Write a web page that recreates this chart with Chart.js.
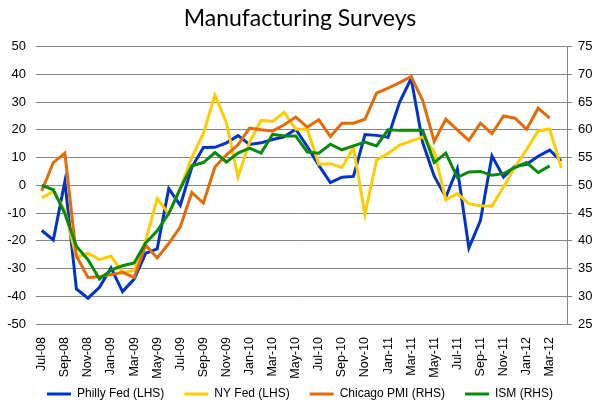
<!DOCTYPE html>
<html>
<head>
<meta charset="utf-8">
<script src="https://cdn.jsdelivr.net/npm/chart.js@4.4.1/dist/chart.umd.min.js"></script>
<style>
  html, body { margin: 0; padding: 0; background: #fff; }
  #wrap { width: 600px; height: 410px; }
</style>
</head>
<body>
<div id="wrap"><canvas id="c" width="600" height="410"></canvas></div>
<script>
const months = ['Jul-08','Aug-08','Sep-08','Oct-08','Nov-08','Dec-08',
  'Jan-09','Feb-09','Mar-09','Apr-09','May-09','Jun-09','Jul-09','Aug-09','Sep-09','Oct-09','Nov-09','Dec-09',
  'Jan-10','Feb-10','Mar-10','Apr-10','May-10','Jun-10','Jul-10','Aug-10','Sep-10','Oct-10','Nov-10','Dec-10',
  'Jan-11','Feb-11','Mar-11','Apr-11','May-11','Jun-11','Jul-11','Aug-11','Sep-11','Oct-11','Nov-11','Dec-11',
  'Jan-12','Feb-12','Mar-12','Apr-12'];

// Left-hand scale series
const phillyFed = [-16.3, -19.7, 1.4, -37.4, -40.7, -36.8, -29.8, -38.3, -33.8, -24.5, -22.9, -1.2,
  -7.2, 6.5, 13.6, 13.7, 15.3, 17.9, 14.7, 15.3, 16.5, 17.5, 20.2, 14.0,
  7.2, 1.0, 2.9, 3.2, 18.3, 18.0, 17.3, 30.0, 38.5, 15.4, 3.3, -4.2,
  6.0, -22.6, -12.7, 10.6, 3.0, 6.9, 7.6, 10.5, 12.7, 8.7];

const nyFed = [-4.5, -2.2, -9.0, -26.0, -24.5, -26.8, -25.5, -31.4, -30.7, -20.0, -4.8, -10.3,
  -1.0, 10.0, 18.7, 32.6, 22.5, 3.0, 15.5, 23.4, 23.1, 26.3, 20.2, 20.2,
  7.6, 7.8, 6.4, 13.5, -10.5, 9.1, 11.5, 14.5, 15.9, 17.5, 12.1, -5.2,
  -3.0, -6.6, -7.4, -7.5, -0.6, 6.6, 12.9, 19.6, 20.3, 6.3];

// Right-hand scale series
const chicagoPMI = [49.0, 54.1, 55.8, 37.3, 33.4, 33.5, 33.9, 34.3, 33.4, 39.2, 36.9, 39.5,
  42.5, 48.7, 46.8, 53.3, 55.5, 57.3, 60.3, 60.0, 59.8, 60.9, 62.3, 60.5,
  61.8, 58.8, 61.2, 61.2, 61.9, 66.6, 67.5, 68.5, 69.6, 65.3, 57.9, 61.9,
  60.0, 58.1, 61.2, 59.3, 62.5, 62.1, 60.1, 63.9, 62.1];

const ism = [50.0, 49.2, 44.9, 39.0, 36.6, 33.1, 34.7, 35.5, 36.0, 39.6, 41.8, 44.9,
  49.4, 53.5, 54.1, 55.9, 54.2, 55.8, 56.7, 55.8, 59.2, 58.9, 58.9, 56.0,
  55.8, 57.4, 56.4, 57.1, 57.8, 57.1, 60.0, 59.9, 59.9, 59.9, 54.1, 55.8,
  51.4, 52.4, 52.5, 51.8, 52.1, 53.2, 54.1, 52.3, 53.5];

const leftTicks = {min: -50, max: 50, step: 10};
const rightTicks = {min: 25, max: 75, step: 5};

const GRID = '#868686';
const FONT = "'Liberation Sans', Arial, sans-serif";

new Chart(document.getElementById('c'), {
  type: 'line',
  data: {
    labels: months,
    datasets: [
      {label: 'Philly Fed (LHS)', data: phillyFed, borderColor: '#0033cc', backgroundColor: '#0033cc', yAxisID: 'y', order: 3},
      {label: 'NY Fed (LHS)', data: nyFed, borderColor: '#ffcc00', backgroundColor: '#ffcc00', yAxisID: 'y', order: 2},
      {label: 'Chicago PMI (RHS)', data: chicagoPMI, borderColor: '#e36c09', backgroundColor: '#e36c09', yAxisID: 'y2', order: 1},
      {label: 'ISM (RHS)', data: ism, borderColor: '#0a8a0a', backgroundColor: '#0a8a0a', yAxisID: 'y2', order: 0}
    ].map(d => Object.assign({borderWidth: 3, pointRadius: 0, pointHoverRadius: 0, tension: 0, fill: false}, d))
  },
  options: {
    responsive: false,
    animation: false,
    devicePixelRatio: 1,
    layout: {padding: {left: 0, right: 0, top: 0, bottom: 0}},
    plugins: {
      title: {
        display: true,
        text: 'Manufacturing Surveys',
        color: '#000',
        font: {family: "Lato, 'Open Sans', sans-serif", size: 23, weight: 'normal'},
        padding: {top: 5, bottom: 14}
      },
      legend: {
        position: 'bottom',
        labels: {
          usePointStyle: true,
          pointStyle: 'line',
          pointStyleWidth: 24,
          boxHeight: 12,
          padding: 20,
          color: '#000',
          font: {family: FONT, size: 12},
          sort: (a, b) => a.datasetIndex - b.datasetIndex
        }
      },
      tooltip: {enabled: false}
    },
    scales: {
      x: {
        type: 'category',
        offset: true,
        grid: {display: false},
        border: {display: false},
        ticks: {
          autoSkip: false,
          maxRotation: 90,
          minRotation: 90,
          padding: 5,
          color: '#000',
          font: {family: FONT, size: 12.5},
          callback: function (v, i) { return i % 2 === 0 ? months[i] : ''; }
        },
        afterFit: s => {
          s.height = 44;
          // let the rotated labels run past the (shortened) axis box
          s._computeLabelArea = () => undefined;
        }
      },
      y: {
        position: 'left',
        min: leftTicks.min, max: leftTicks.max,
        ticks: {stepSize: leftTicks.step, padding: 10, color: '#000', font: {family: FONT, size: 13}},
        grid: {color: GRID, lineWidth: 1, drawTicks: false},
        border: {display: false},
        afterFit: s => { s.width = 36; }
      },
      y2: {
        position: 'right',
        min: rightTicks.min, max: rightTicks.max,
        ticks: {stepSize: rightTicks.step, padding: 6, color: '#000', font: {family: FONT, size: 13}},
        grid: {drawOnChartArea: false, color: GRID, tickLength: 5},
        border: {display: true, color: GRID},
        afterFit: s => { s.width = 33; }
      }
    }
  }
});
</script>
</body>
</html>
